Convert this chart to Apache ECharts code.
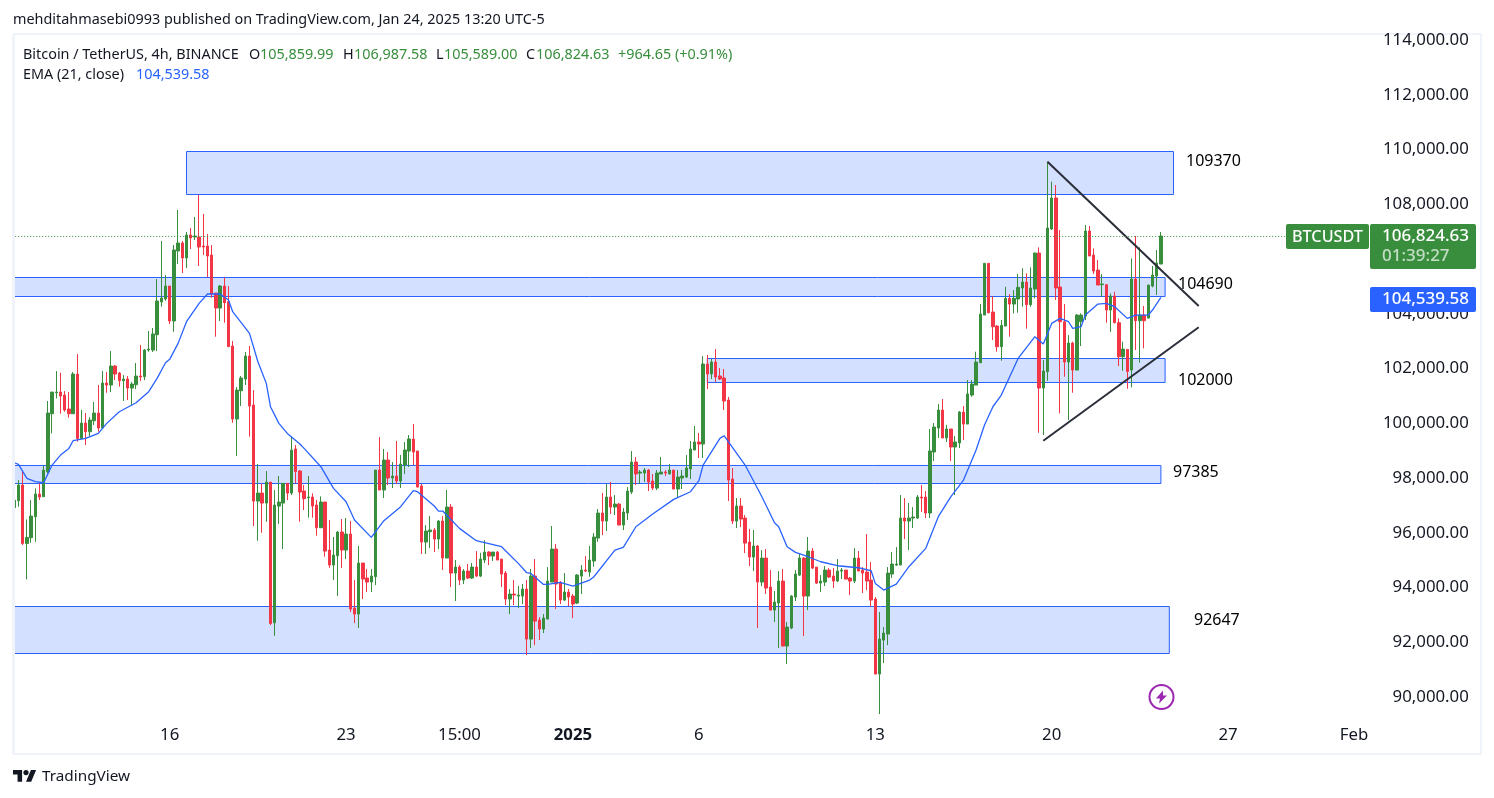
<!DOCTYPE html>
<html><head><meta charset="utf-8">
<style>html,body{margin:0;padding:0;background:#fff}#c{width:1494px;height:798px}</style>
<script src="https://cdn.jsdelivr.net/npm/echarts@6/dist/echarts.min.js"></script>
</head><body><div id="c"></div>
<script>
// [open, close, low, high] for each 4h bar
const candles = [
[96858,97139,95860,97467],[97114,97687,96895,97869],[97687,95555,95494,98235],[95555,95774,94240,96432],[95764,96554,95580,97139],[96530,97358,95616,97565],[97358,97248,97139,97748],[97260,98235,97260,98393],
[98174,100318,98113,100756],[100293,101085,99575,101085],[101061,101085,100854,101852],[101085,100939,100293,101791],[100975,100427,100366,101121],[100464,100293,100147,101085],[100293,101743,100293,101816],[101743,99392,99270,102473],
[99392,99952,99392,100427],[99952,99636,99148,100318],[99636,100062,99453,100171],[100037,100318,99879,100720],[100318,99770,99636,101341],[99770,101414,99757,101852],[101414,101341,101061,101816],[101341,102035,101085,102583],
[102035,101743,101523,102072],[101779,101499,101280,101816],[101499,101560,100756,101706],[101560,101231,100793,101670],[101231,101377,100610,101450],[101353,101670,101195,102145],[101670,101633,101487,102802],[101645,102620,101523,102656],
[102620,102656,102559,103314],[102620,103204,102547,103424],[103180,104410,102583,105214],[104374,104520,104203,106602],[104483,104958,104422,105360],[104958,103679,103570,104958],[103679,106274,103290,106456],[106237,106530,105762,107735],
[106530,105981,105433,106602],[105981,106822,105616,106931],[106822,106712,106310,107077],[106749,106785,106639,107479],[106749,106383,105689,108283],[106420,106383,106091,107589],[106420,106054,105287,106858],[106091,104666,104532,106456],
[104702,104154,103107,104702],[104154,104958,103679,104995],[104958,104349,103618,105275],[104386,102741,102741,104958],[102766,100098,99964,102948],[100098,101158,98747,101268],[101134,101597,100573,101670],[101560,102400,101341,102547],
[102400,100573,99453,102766],[100610,97102,96189,101158],[97102,97394,95653,98454],[97394,97029,95945,97748],[97029,97796,96347,98198],[97796,92632,92571,97796],[92656,96956,92182,97504],[96920,97066,96262,98016],
[97029,97748,95348,97748],[97748,97394,97139,97748],[97394,98962,97321,99477],[99004,98175,97749,99150],[98200,97432,96348,98236],[97469,97189,96775,97688],[97225,97250,96494,98017],[97250,96921,96494,97384],
[96957,96129,95837,97140],[96129,97067,96129,97274],[97067,95276,95069,97067],[95313,94765,94667,96409],[94765,95130,94217,95788],[95106,95971,93632,96007],[95971,95313,94655,96446],[95313,95898,94984,96482],
[95898,93157,93048,96373],[93194,92974,92646,94217],[92974,94838,92463,95459],[94838,94253,93523,94838],[94290,94144,93778,94619],[94144,94363,93778,94619],[94339,98236,94034,98236],[98236,97505,97505,99442],
[97505,98602,97213,99004],[98602,97944,97688,98894],[97944,98017,97578,98528],[98017,97834,97725,99296],[97834,98455,97578,98784],[98419,98967,98090,99259],[98930,99369,98346,99515],[99369,98894,98419,99917],
[98930,97615,97603,98930],[97652,95605,95167,97725],[95605,96007,95167,96227],[95983,96044,95386,96555],[96044,95715,95240,96117],[95715,96373,95350,96409],[96373,95021,94582,96555],[95021,96884,95021,97505],
[96884,94473,93961,96994],[94473,94692,93450,94948],[94692,94217,94034,94765],[94217,94546,94071,94619],[94546,94290,94253,94802],[94290,94692,94253,94838],[94692,94363,94326,95276],[94363,94984,94326,95215],
[94948,95240,94838,95678],[95240,95094,94765,95276],[95094,95240,94911,95240],[95240,94948,94948,95276],[94984,94436,93961,94984],[94473,93523,93303,94546],[93523,93705,92974,93888],[93705,93669,93303,94217],
[93632,93669,93194,93998],[93632,93888,93340,94071],[93888,92061,91477,94217],[92061,94363,91732,94619],[94363,92718,91842,94984],[92755,92426,92024,92865],[92426,92828,92280,92974],[92792,94180,92792,94692],
[94144,95350,94144,96190],[95350,94071,93157,95532],[94107,93486,93340,94180],[93486,93778,93450,94473],[93778,93596,93267,93888],[93632,93340,92828,93705],[93377,94400,93340,94436],[94363,94582,93705,94765],
[94582,94546,94509,95094],[94509,94947,94338,95459],[94911,95788,94704,95934],[95751,96665,95617,96811],[96665,96372,95861,97395],[96372,97249,96007,97724],[97249,96884,96628,97798],[96884,96993,96592,97322],
[96993,96226,96226,97030],[96226,96701,96043,96847],[96665,97468,96409,97615],[97432,98528,97359,98930],[98528,98090,97688,98711],[98126,98163,97749,98236],[98126,98236,97797,98309],[98236,97797,97468,98272],
[97834,97578,97505,98090],[97578,98126,97505,98236],[98090,98163,98090,98711],[98163,98126,98017,98236],[98090,98236,98090,98455],[98236,97542,97542,98236],[97542,97980,97213,98236],[97943,98017,97542,98236],
[97980,98309,97943,98784],[98272,99003,97907,99295],[98967,99259,98967,99844],[99259,99186,98674,99588],[99186,102109,98674,102401],[102109,101744,101196,102438],[101744,102182,101561,102292],[102182,101634,101451,102657],
[101671,101561,101524,101963],[101598,100757,100428,101926],[100794,97870,97103,100903],[97907,96372,96263,98309],[96372,96920,96117,97213],[96920,96445,96153,97213],[96482,95568,95203,96592],[95605,95057,94728,96080],
[95057,95459,94545,96043],[95459,94143,92463,95495],[94143,95020,93997,95313],[95020,93924,93705,95349],[93961,93120,93120,94582],[93120,93412,92682,93815],[93376,94180,91732,94545],[94180,91805,91805,94618],
[91805,92499,91147,92682],[92463,93632,92426,93668],[93595,94436,93449,94582],[94399,95020,94363,95166],[95020,93632,92170,95057],[93632,95276,93120,95788],[95276,94655,94618,95386],[94691,94107,94070,94691],
[94107,94180,93778,94399],[94143,94582,93997,94728],[94582,94326,94290,94655],[94363,94180,93924,94655],[94180,94545,94143,94984],[94545,94582,94253,94655],[94582,94253,94253,94582],[94290,94180,93668,94326],
[94180,95020,94107,95386],[95020,94545,94545,95276],[94582,94472,93741,94691],[94509,94180,93851,95897],[94217,93486,93242,94874],[93523,90782,90782,93596],[90782,92061,89321,93048],[92024,92280,91184,92500],
[92244,94473,91842,94692],[94436,94802,94290,95240],[94765,94802,94729,95423],[94765,96482,94765,97323],[96482,96373,95715,97213],[96373,96482,95313,97031],[96482,96519,96117,96884],[96482,97250,96446,97323],
[97250,97213,96702,97688],[97250,96665,96482,97469],[96665,98931,96482,99735],[98894,99808,98565,99954],[99771,100429,99406,100648],[100429,99406,99406,100831],[99406,99735,99260,99881],[99735,99077,98565,99735],
[99077,99260,97323,99479],[99223,100356,99040,100392],[100353,99915,99330,100573],[99915,101011,99915,101523],[100975,101377,100914,101523],[101340,102180,101340,102558],[102156,103934,102156,104300],[103898,105786,103898,105786],
[105786,103983,103959,105786],[104008,103472,102984,104592],[103496,102741,102558,103533],[102741,103520,102229,103715],[103496,104507,103496,104933],[104507,104300,103106,104665],[104300,104507,103959,104811],[104483,104909,103983,105396],
[104884,105104,104202,105603],[105104,104275,103399,105420],[104275,104884,104202,105640],[104848,106163,104507,106176],[106163,101231,99598,106370],[101231,101852,99513,102254],[101827,107077,101498,109501],[107040,108173,107004,108770],
[108173,104884,104446,108648],[104921,103654,100305,107004],[103654,102180,101645,104300],[102180,102875,100061,103167],[102875,101888,101060,102924],[101888,103898,101888,103934],[103654,103898,102765,103959],[103861,106967,103715,107187],
[106967,106054,106054,107150],[106090,105506,105396,106334],[105542,104994,104994,105907],[105006,105031,104568,105396],[105006,104081,103618,105031],[104081,104592,103277,104690],[104592,103618,103593,104750],[103618,102375,102034,103776],
[102375,102656,101864,102923],[102643,101839,101206,102643],[101888,105213,101255,105968],[105213,103691,102619,106785],[103691,103898,102156,106370],[103898,103691,102680,104227],[103788,104994,103776,104994],[104957,105360,104909,105688],
[105323,105798,104629,106273],[105761,106785,105761,106931]
];
// EMA(21) at sample bars: [bar index, price]
const emaPoints = [[0,98503],[1,98442],[3,97930],[5,97809],[7,97772],[9,98418],[11,98783],[13,99026],[14,99307],[17,99392],[20,99575],[22,99940],[25,100366],[29,100695],[32,101097],[34,101584],[36,102157],[37,102279],[39,102863],[41,103655],[44,104325],[46,104666],[49,104666],[51,104447],[52,104020],[56,103229],[58,102193],[60,101402],[61,100549],[63,99940],[65,99575],[68,99185],[69,99028],[73,98358],[76,97566],[79,97079],[81,96409],[85,95776],[88,96385],[92,96896],[95,97481],[96,97445],[100,96921],[101,96738],[102,96738],[106,96105],[110,95654],[116,95435],[120,94826],[122,94485],[123,94460],[126,94058],[127,94058],[130,94132],[133,93998],[137,94217],[138,94338],[143,95313],[145,95410],[148,96165],[152,96628],[157,97164],[161,97444],[163,97846],[164,98418],[168,99393],[169,99490],[170,99271],[174,98418],[178,97261],[181,96311],[182,96165],[184,95434],[186,95227],[189,95069],[192,94886],[196,94740],[201,94667],[204,94557],[205,94095],[207,93852],[210,94071],[213,94704],[217,95374],[220,96531],[223,97262],[226,97871],[229,98970],[231,99879],[233,100548],[235,100975],[239,102314],[243,103106],[245,102838],[247,103593],[249,103776],[251,103654],[252,103410],[254,103472],[255,103898],[258,104300],[260,104325],[262,104203],[265,103776],[267,103898],[270,103898],[271,104081],[273,104539.58]];
// Zones: [first bar, last bar, top price, bottom price]
const zones = [[41,276,109872,108301],[0,274,105269,104575],[165,274,102310,101434],[0,273,98402,97744],[0,275,93251,91534]];
const zoneLabels = [["109370",1186,161],["104690",1178,284],["102000",1178,380],["97385",1173,472],["92647",1194,620]];
const trendDown = [[246,109500],[282,104229]];
const trendUp = [[245,99308],[282,103450]];
const lastPriceLine = 106785;
const slotCount = 323;
const timeTicks = {37:"16",79:"23",106:"15:00",133:"2025",163:"6",205:"13",247:"20",289:"27",319:"Feb"};
const categories = Array.from({length:slotCount},(_,i)=>timeTicks[i]||"");

const GREEN="#388e3c",RED="#f23645",BLUE="#2962ff",INK="#131722";
const FONT='"Noto Sans",sans-serif';
const txt=(text,x,y,fill,size,weight)=>({type:'text',z:100,x:x,y:y,style:{text:text,fill:fill,font:(weight?weight+' ':'')+(size||14.4)+'px '+FONT,verticalAlign:'middle',align:'left'}});
const chart=echarts.init(document.getElementById('c'),null,{renderer:'canvas'});
chart.setOption({
  animation:false,backgroundColor:'#fff',
  grid:{left:12.2,top:38.5,width:1356.6,height:711.75},
  xAxis:{type:'category',data:categories,boundaryGap:true,
    axisLine:{show:false},axisTick:{show:false},splitLine:{show:false},
    axisLabel:{show:true,inside:true,margin:7,interval:(i,v)=>v!=="",color:INK,fontFamily:FONT,fontSize:16.8,
      formatter:v=>v==="2025"?"{b|2025}":v,rich:{b:{fontWeight:'bold',fontSize:16.8,fontFamily:FONT,color:INK}}}},
  yAxis:{type:'value',position:'right',min:88000,max:114000,interval:2000,
    axisLine:{show:false},axisTick:{show:false},splitLine:{show:false},
    axisLabel:{margin:100,align:'right',color:INK,
      formatter:v=>v===88000?"":"{p|"+v.toLocaleString('en-US',{minimumFractionDigits:2,maximumFractionDigits:2})+"}",
      rich:{p:{fontFamily:FONT,fontSize:16.8,color:INK,padding:[3,0,0,0]}}}},
  series:[
    {type:'candlestick',data:candles,barWidth:3,clip:true,
      itemStyle:{color:GREEN,color0:RED,borderColor:GREEN,borderColor0:RED,borderColorDoji:GREEN,borderWidth:1},
      markArea:{silent:true,itemStyle:{color:'rgba(41,98,255,0.2)',borderColor:BLUE,borderWidth:1},
        data:zones.map(z=>[{xAxis:z[0],yAxis:z[2]},{xAxis:z[1],yAxis:z[3]}])},
      markLine:{silent:true,symbol:'none',label:{show:false},lineStyle:{color:GREEN,type:[1,2],width:1},
        data:[{yAxis:lastPriceLine}]}
    },
    {type:'line',name:'EMA',data:emaPoints,showSymbol:false,symbol:'none',lineStyle:{color:BLUE,width:1.3},z:3,silent:true},
    {type:'line',name:'down',data:trendDown,showSymbol:false,symbol:'none',lineStyle:{color:'#2a2e39',width:2},z:4,silent:true},
    {type:'line',name:'up',data:trendUp,showSymbol:false,symbol:'none',lineStyle:{color:'#2a2e39',width:2},z:4,silent:true}
  ],
  graphic:{elements:[
    {type:'rect',z:90,shape:{x:0,y:0,width:13,height:798},style:{fill:'#fff'}},
    {type:'rect',z:91,shape:{x:12,y:35,width:3,height:718},style:{fill:'#f0f3fa'}},
    {type:'rect',z:-1,shape:{x:13,y:34,width:1468,height:720},style:{fill:'none',stroke:'#f0f3fa',lineWidth:2}},
    txt("mehditahmasebi0993 published on TradingView.com, Jan 24, 2025 13:20 UTC-5",13,20,INK),
    txt("Bitcoin / TetherUS, 4h, BINANCE",23,55,INK),
    txt("O",249,55,INK),txt("105,859.99",260,55,GREEN),
    txt("H",343,55,INK),txt("106,987.58",354,55,GREEN),
    txt("L",436,55,INK),txt("105,589.00",444,55,GREEN),
    txt("C",526,55,INK),txt("106,824.63",536,55,GREEN),
    txt("+964.65 (+0.91%)",618,55,GREEN),
    txt("EMA (21, close)",23,75,INK),txt("104,539.58",136,75,BLUE),
    ...zoneLabels.map(l=>txt(l[0],l[1],l[2],'#000',16)),
    {type:'rect',z:99,shape:{x:1286,y:224,width:83,height:25,r:2},style:{fill:GREEN}},
    txt("BTCUSDT",1292,237,'#fff',16.2,500),
    {type:'rect',z:99,shape:{x:1370,y:224,width:106,height:45,r:2},style:{fill:GREEN}},
    txt("106,824.63",1382,236,'#fff',17,500),
    txt("01:39:27",1382,256,'rgba(255,255,255,0.7)',17,500),
    {type:'rect',z:99,shape:{x:1370,y:287,width:106,height:25,r:2},style:{fill:BLUE}},
    txt("104,539.58",1382,299,'#fff',17,500),
    {type:'circle',z:99,shape:{cx:1161.5,cy:697,r:12},style:{fill:'none',stroke:'#9c27b0',lineWidth:2}},
    {type:'polygon',z:99,shape:{points:[[1163,690.5],[1156,698.5],[1160,698.5],[1159,703.5],[1167,695.5],[1163,695.5]]},style:{fill:'#9c27b0'}},
    {type:'polygon',z:99,shape:{points:[[13,770],[22.1,770],[22.1,781.7],[17.55,781.7],[17.55,774.55],[13,774.55]]},style:{fill:INK}},
    {type:'polygon',z:99,shape:{points:[[26,781.7],[30.9,770],[36.1,770],[31.2,781.7]]},style:{fill:INK}},
    {type:'circle',z:99,shape:{cx:26,cy:772.6,r:2.6},style:{fill:INK}},
    txt("TradingView",42,777,INK,15.3)
  ]}
});
</script></body></html>
